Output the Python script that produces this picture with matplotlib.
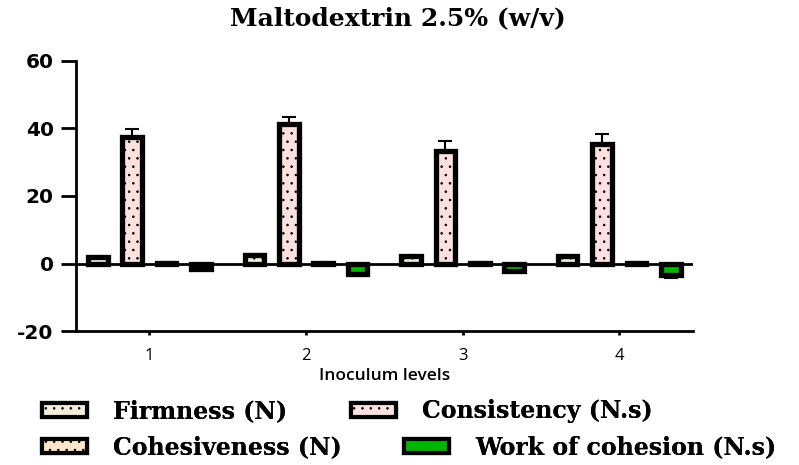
import matplotlib
matplotlib.use("Agg")
import matplotlib.pyplot as plt
import numpy as np
from matplotlib.patches import Patch

levels = ["1", "2", "3", "4"]
series = ["Firmness (N)", "Consistency (N.s)", "Cohesiveness (N)", "Work of cohesion (N.s)"]
firmness = [2.0, 2.5, 2.3, 2.3]
firmness_err = [0.3, 0.3, 0.3, 0.3]
consistency = [37.4, 41.2, 33.4, 35.3]
consistency_err = [2.3, 2.2, 3.0, 3.2]
cohesiveness = [0.3, 0.3, 0.3, 0.3]
cohesiveness_err = [0.05, 0.05, 0.05, 0.05]
work_cohesion = [-1.6, -3.0, -2.1, -3.4]
work_cohesion_err = [0.2, 0.6, 0.5, 0.9]

colors = ["#f1edd8", "#fde0e0", "#fde6cc", "#00b400"]
hatches = ["..", "..", "..", None]
values = [firmness, consistency, cohesiveness, work_cohesion]
errors = [firmness_err, consistency_err, cohesiveness_err, work_cohesion_err]

plt.rcParams['hatch.color'] = '#333333'
plt.rcParams['hatch.linewidth'] = 0.6
plt.rcParams['axes.unicode_minus'] = False

fig = plt.figure(figsize=(7.99, 4.65), dpi=100)
ax = fig.add_axes([0.095, 0.288, 0.772, 0.581])

x = np.arange(1, len(levels) + 1)
offsets = [-0.33, -0.11, 0.11, 0.33]
width = 0.125
for vals, errs, col, h, off in zip(values, errors, colors, hatches, offsets):
    vals = np.array(vals)
    errs = np.array(errs)
    lower = np.where(vals < 0, errs, 0)
    upper = np.where(vals >= 0, errs, 0)
    ax.bar(x + off, vals, width, color=col, edgecolor='black', linewidth=3.8,
           hatch=h, zorder=3)
    ax.errorbar(x + off, vals, yerr=[lower, upper], fmt='none',
                ecolor='black', elinewidth=1.5, capsize=5, capthick=1.5, zorder=2)

ax.axhline(0, color='black', linewidth=2.0, zorder=4)
ax.set_xlim(0.53, 4.47)
ax.set_ylim(-20, 60)
ax.set_yticks([-20, 0, 20, 40, 60])
ax.set_xticks(x)
ax.set_xticklabels(levels, fontfamily='Open Sans', fontsize=12)
for lbl in ax.get_yticklabels():
    lbl.set_fontfamily('DejaVu Sans')
    lbl.set_fontweight('bold')
    lbl.set_fontsize(14.5)
ax.tick_params(axis='y', length=11, width=2.0, pad=5)
ax.tick_params(axis='x', length=3, width=2.0, pad=9)
for s in ['top', 'right']:
    ax.spines[s].set_visible(False)
for s in ['left', 'bottom']:
    ax.spines[s].set_linewidth(2.0)
ax.set_xlabel("Inoculum levels", fontfamily='Open Sans', fontweight='semibold',
              fontsize=12.5, labelpad=3)

fig.text(0.498, 0.96, "Maltodextrin 2.5% (w/v)", ha='center', va='center',
         fontfamily='DejaVu Serif', fontweight='bold', fontsize=18)

handles = [Patch(facecolor=c, edgecolor='black', linewidth=3, hatch=h)
           for c, h in zip(colors, hatches)]
leg_font = dict(family='DejaVu Serif', weight='bold', size=17)
# (handle left x in px, row center y in px)
positions = [(42, 411), (351, 411), (42, 447), (404, 447)]
for hdl, lab, (px, py) in zip(handles, series, positions):
    lg = fig.legend([hdl], [lab], loc='center left', bbox_to_anchor=(px / 799, 1 - py / 465),
                    frameon=False, prop=leg_font, handlelength=1.9, handleheight=0.55,
                    handletextpad=1.1, borderaxespad=0, borderpad=0)
    fig.add_artist(lg)

fig.savefig("out.png", dpi=100)
